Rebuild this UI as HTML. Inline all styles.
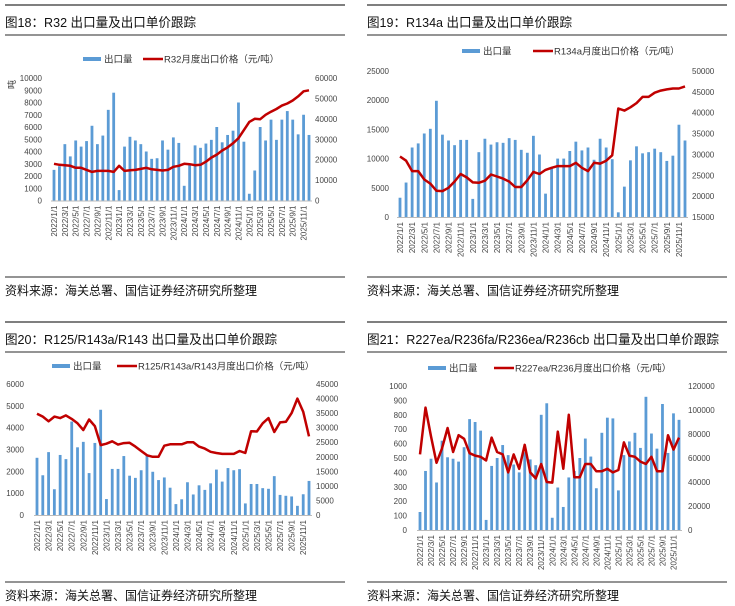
<!DOCTYPE html>
<html><head><meta charset="utf-8">
<style>
html,body{margin:0;padding:0;background:#fff;}
svg{display:block;font-family:"Liberation Sans","Noto Sans CJK SC",sans-serif;}
</style></head>
<body>
<svg id="s" width="735" height="606" viewBox="0 0 735 606" xmlns="http://www.w3.org/2000/svg"></svg>
<script>
const months = [];
for (let y = 2022; y <= 2025; y++) for (let m = 1; m <= 12; m++) months.push(y + '/' + m + '/1');

const r32Volume = [2500,2800,4600,3600,4900,4400,4850,6100,4600,5300,7400,8800,850,4400,5200,4900,4600,4000,3400,3450,4900,4150,5150,4700,1200,3000,4500,4300,4650,4950,6000,4750,5350,5700,8000,4800,550,2450,6000,4900,6600,4950,6600,7300,6600,5400,7000,5350];
const r32Price = [18000,17500,17300,17000,16000,16000,15000,14000,14500,14500,14500,14000,17000,14500,14800,15000,15500,16000,15300,15000,14700,15000,16500,17000,18000,17800,17300,17500,19000,21000,22500,24500,26000,28000,30500,34500,38500,40000,39800,42000,43500,44800,46500,47500,49000,51000,53500,54000];
const r134Volume = [3300,5900,11900,12600,14300,15100,19900,14100,13100,12300,13200,13200,3100,11100,13400,12400,12800,12700,13500,13200,11500,11000,13900,10700,4000,8500,10000,10000,11300,12900,11400,11900,9800,13400,11900,9900,800,5200,9700,12100,10900,11100,11700,11100,9600,10500,15800,13100];
const r134Price = [29500,28500,26000,26000,24000,23000,21300,21200,22000,23500,25300,24500,23300,23200,23700,25200,24700,24200,23500,22200,22200,23800,25800,25300,26300,26800,27200,27200,27200,28000,26800,26000,28000,27800,28500,29800,41000,40500,41300,42300,43800,43800,44800,45300,45600,45800,45800,46300];
const r125Volume = [2620,1820,2880,1180,2750,2560,4280,3100,3350,1920,3300,4820,730,2110,2110,2700,1800,1700,2050,2750,1980,1600,1720,1250,500,720,1500,940,1360,1150,1450,2080,1530,2150,2050,2100,530,1420,1420,1230,1200,1780,920,880,850,420,950,1560];
const r125Price = [34800,33800,32200,33800,33300,34200,33000,31500,29200,32800,30500,24000,24500,25300,24200,24700,24800,23500,22000,20500,20000,20000,23800,24300,24300,24300,25000,25000,23500,22800,21700,21300,21000,21000,21000,22000,21300,28800,28700,31500,33300,28500,31800,32000,35000,40000,35500,27000];
const r227Volume = [125,410,495,330,620,505,495,475,575,770,750,690,70,445,500,590,520,455,400,540,490,450,800,880,85,295,160,365,410,500,635,510,290,675,780,775,275,520,615,675,570,925,670,565,875,535,810,765];
const r227Price = [63000,102000,78000,56000,68000,85000,65000,79000,76000,64000,62000,61000,58000,77000,65000,63000,48000,63000,51000,71000,48000,43000,55000,40000,39500,82000,51000,96000,44000,44000,55000,55000,49000,49000,51000,48000,50000,73000,62000,61000,57000,55000,61000,49000,49000,79000,67000,77000];

const leftTicks1 = [0,1000,2000,3000,4000,5000,6000,7000,8000,9000,10000];
const rightTicks1 = [0,10000,20000,30000,40000,50000,60000];
const leftTicks2 = [0,5000,10000,15000,20000,25000];
const rightTicks2 = [15000,20000,25000,30000,35000,40000,45000,50000];
const leftTicks3 = [0,1000,2000,3000,4000,5000,6000];
const rightTicks3 = [0,5000,10000,15000,20000,25000,30000,35000,40000,45000];
const leftTicks4 = [0,100,200,300,400,500,600,700,800,900,1000];
const rightTicks4 = [0,20000,40000,60000,80000,100000,120000];

const NS = 'http://www.w3.org/2000/svg';
const svg = document.getElementById('s');
function mk(tag, attrs, parent, txt){
  const e = document.createElementNS(NS, tag);
  for (const k in attrs) e.setAttribute(k, attrs[k]);
  if (txt !== undefined) e.textContent = txt;
  (parent || svg).appendChild(e);
  return e;
}

function panel(c){
  const g = mk('g', {});
  
  
  let r = mk('line', {x1:c.rx0, x2:c.rx1, y1:c.top, y2:c.top, stroke:'#555', 'stroke-width':1.5}, g);
   
  r = mk('line', {x1:c.rx0, x2:c.rx1, y1:c.top+30, y2:c.top+30, stroke:'#555', 'stroke-width':1.2}, g);
   
  r = mk('line', {x1:c.rx0, x2:c.rx1, y1:c.bot, y2:c.bot, stroke:'#555', 'stroke-width':1.2}, g);
   
  let t = mk('text', {x:c.rx0, y:c.top+22, 'font-size':13, fill:'#111', textLength:c.tw, lengthAdjust:'spacingAndGlyphs'}, g, c.title);
   
  t = mk('text', {x:c.rx0, y:c.bot+18, 'font-size':12.5, fill:'#111', textLength:252, lengthAdjust:'spacingAndGlyphs'}, g, '资料来源：海关总署、国信证券经济研究所整理');
   
  const lg = mk('g', {}, g);
   
  let s = mk('rect', {x:c.lx, y:c.ly-2, width:18, height:4, fill:'#5b9bd5'}, lg);
   
  t = mk('text', {x:c.lx+21, y:c.ly+3.5, 'font-size':9.5, fill:'#333'}, lg, '出口量');
   
  s = mk('line', {x1:c.lx2, x2:c.lx2+20, y1:c.ly, y2:c.ly, stroke:'#c00000', 'stroke-width':2.5}, lg);
   
  t = mk('text', {x:c.lx2+21, y:c.ly+3.5, 'font-size':9.5, fill:'#333'}, lg, c.priceLabel);
   

  const lmax = c.lt[c.lt.length-1], lmin = c.lt[0];
  const rmax = c.rt[c.rt.length-1], rmin = c.rt[0];
  const yL = v => c.y0 - (v - lmin) / (lmax - lmin) * (c.y0 - c.y1);
  const yR = v => c.y0 - (v - rmin) / (rmax - rmin) * (c.y0 - c.y1);
  const n = c.vol.length;
  const step = (c.bx1 - c.bx0) / (n - 1);
  const xB = i => c.bx0 + i * step;

  c.lt.forEach(v => {
    const e = mk('text', {x:c.lax, y:yL(v)+3, 'font-size':8, fill:'#444', 'text-anchor':'end'}, g, v);
     
  });
  c.rt.forEach(v => {
    const e = mk('text', {x:c.rax, y:yR(v)+3, 'font-size':8, fill:'#444'}, g, v);
     
  });
  const ax = mk('line', {x1:c.bx0-3, x2:c.bx1+3, y1:c.y0+0.5, y2:c.y0+0.5, stroke:'#bbb', 'stroke-width':1}, g);
   

  c.vol.forEach((v, i) => {
    const b = mk('rect', {x:xB(i)-1.4, y:yL(v), width:2.8, height:c.y0-yL(v), fill:'#5b9bd5'}, g);
    
    
  });
  const pts = c.price.map((v, i) => xB(i).toFixed(1) + ',' + yR(v).toFixed(1)).join(' ');
  const pl = mk('polyline', {points:pts, fill:'none', stroke:'#c00000', 'stroke-width':2.5, 'stroke-linejoin':'round'}, g);
   

  months.forEach((m, i) => {
    if (i % 2) return;
    const x = xB(i) + 3, y = c.y0 + 5;
    const e = mk('text', {x:x, y:y, 'font-size':8, fill:'#444', 'text-anchor':'end', transform:'rotate(-90 '+x+' '+y+')'}, g, m);
     
  });
  if (c.unit) {
    const e = mk('text', {x:8, y:88, 'font-size':9, fill:'#333', transform:'rotate(-90 12 85)'}, g, '吨');
     
  }
}

panel({id:'r32', title:'图18：R32 出口量及出口单价跟踪', tw:191, priceLabel:'R32月度出口价格（元/吨）', rx0:5, rx1:345, top:5, bot:277,
  lx:83, lx2:143, ly:59, y0:200.5, y1:78, bx0:54, bx1:309, lax:42, rax:315,
  lt:leftTicks1, rt:rightTicks1, vol:r32Volume, price:r32Price, unit:true});
panel({id:'r134a', title:'图19：R134a 出口量及出口单价跟踪', tw:205, priceLabel:'R134a月度出口价格（元/吨）', rx0:367, rx1:727, top:5, bot:277,
  lx:462, lx2:533, ly:51, y0:217, y1:71, bx0:400, bx1:685, lax:389, rax:692,
  lt:leftTicks2, rt:rightTicks2, vol:r134Volume, price:r134Price});
panel({id:'r125', title:'图20：R125/R143a/R143 出口量及出口单价跟踪', tw:272, priceLabel:'R125/R143a/R143月度出口价格（元/吨）', rx0:5, rx1:345, top:322, bot:582,
  lx:52, lx2:117, ly:366, y0:515, y1:384, bx0:37, bx1:309, lax:24, rax:316,
  lt:leftTicks3, rt:rightTicks3, vol:r125Volume, price:r125Price});
panel({id:'r227ea', title:'图21：R227ea/R236fa/R236ea/R236cb 出口量及出口单价跟踪', tw:352, priceLabel:'R227ea/R236月度出口价格（元/吨）', rx0:367, rx1:727, top:322, bot:582,
  lx:428, lx2:494, ly:368, y0:530, y1:386, bx0:420, bx1:679, lax:407, rax:688,
  lt:leftTicks4, rt:rightTicks4, vol:r227Volume, price:r227Price});
</script>
</body></html>
